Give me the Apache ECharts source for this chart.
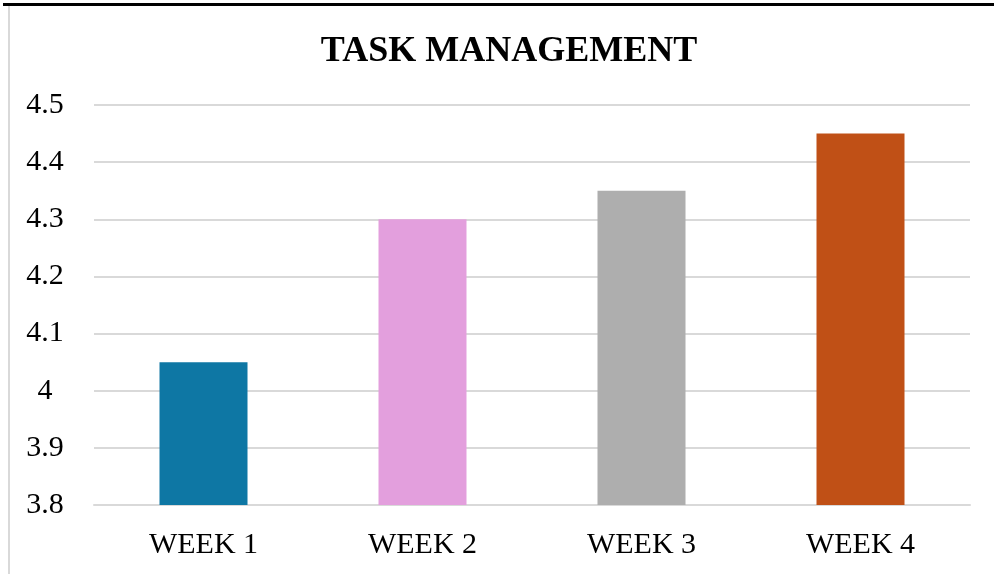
<!DOCTYPE html>
<html>
<head>
<meta charset="utf-8">
<script src="https://cdn.jsdelivr.net/npm/echarts@6/dist/echarts.min.js"></script>
<style>
html,body{margin:0;padding:0;background:#fff;}
#c{width:994px;height:574px;}
</style>
</head>
<body>
<div id="c"></div>
<script>
const categories = ['WEEK 1', 'WEEK 2', 'WEEK 3', 'WEEK 4'];
const values = [4.05, 4.30, 4.35, 4.45];
const colors = ['#0E77A4', '#E39FDD', '#AEAEAE', '#C05016'];
const titleText = 'TASK MANAGEMENT';

const chart = echarts.init(document.getElementById('c'));
chart.setOption({
  animation: false,
  backgroundColor: '#fff',
  title: {
    text: titleText,
    left: 504,
    top: 29,
    textAlign: 'center',
    textStyle: {fontFamily: 'Liberation Serif', fontWeight: 'bold', fontSize: 36, color: '#000'}
  },
  graphic: [
    {type: 'rect', shape: {x: 3, y: 3, width: 991, height: 3}, style: {fill: '#000'}},
    {type: 'rect', shape: {x: 8, y: 6, width: 2, height: 568}, style: {fill: '#d9d9d9'}}
  ],
  grid: {left: 94, right: 24, top: 105, bottom: 69},
  xAxis: {
    type: 'category',
    data: categories,
    axisLine: {lineStyle: {color: '#d9d9d9', width: 2}},
    axisTick: {show: false},
    axisLabel: {fontFamily: 'Liberation Serif', fontSize: 30, color: '#000', margin: 25}
  },
  yAxis: {
    type: 'value',
    min: 3.8,
    max: 4.5,
    interval: 0.1,
    axisLine: {show: false},
    axisTick: {show: false},
    splitLine: {lineStyle: {color: '#d9d9d9', width: 2}},
    axisLabel: {
      fontFamily: 'Liberation Serif', fontSize: 30, color: '#000', margin: 49, align: 'center',
      formatter: v => String(Math.round(v * 10) / 10)
    }
  },
  series: [{
    type: 'bar',
    barWidth: 88,
    data: values.map((v, i) => ({value: v, itemStyle: {color: colors[i]}}))
  }]
});
</script>
</body>
</html>
